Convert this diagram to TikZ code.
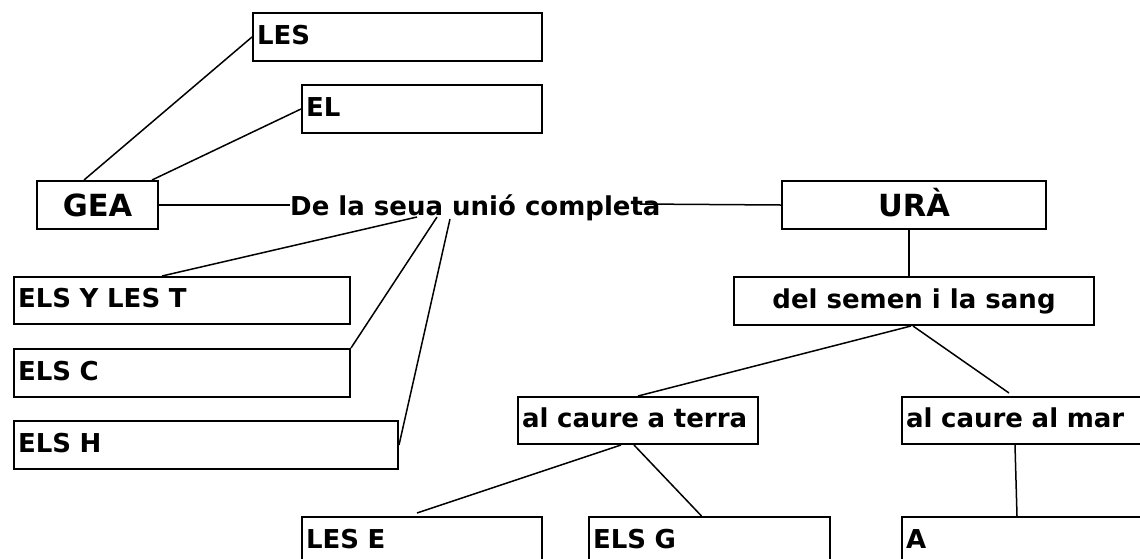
\documentclass[tikz,border=0pt]{standalone}
\usepackage{fontspec}
\setmainfont{DejaVu Sans}
\usepackage{tikz}
\usetikzlibrary{positioning}

\begin{document}
\begin{tikzpicture}[x=1pt, y=-1pt,
    caixa/.style={draw, rectangle, line width=2pt, anchor=north west, inner xsep=4pt, inner ysep=0pt,
        minimum height=48pt, font=\bfseries\fontsize{26}{30}\selectfont, text height=19pt, text depth=5pt},
    esq/.style={caixa, align=left},
    gran/.style={caixa, font=\bfseries\fontsize{30.5}{34}\selectfont, text height=22pt, text depth=0pt},
    fil/.style={line width=1.5pt}]
    \path[use as bounding box] (0,0) rectangle (1140,558);
    \clip (0,0) rectangle (1140,558);

    % GEA i els seus fills
    \node[esq, minimum width=289pt, text width=281pt] (les) at (252,12) {LES};
    \node[esq, minimum width=240pt, text width=232pt] (el) at (301,84) {EL};
    \node[gran, minimum width=121pt] (gea) at (36,180) {GEA};
    \node[gran, minimum width=264pt] (ura) at (781,180) {URÀ};
    \node[anchor=base west, inner sep=0pt, font=\bfseries\fontsize{26}{30}\selectfont] (unio) at (290,215) {De la seua unió completa};

    \node[esq, minimum width=336pt, text width=328pt, minimum height=47pt] (tit) at (13,276) {ELS Y LES T};
    \node[esq, minimum width=336pt, text width=328pt] (cic) at (13,348) {ELS C};
    \node[esq, minimum width=384pt, text width=376pt] (hec) at (13,420) {ELS H};

    % URÀ
    \node[caixa, minimum width=360pt] (sang) at (733,276) {del semen i la sang};
    \node[esq, minimum width=240pt, text width=232pt, minimum height=47pt] (terra) at (517,396) {al caure a terra};
    \node[esq, minimum width=250pt, text width=242pt, minimum height=47pt] (mar) at (901,396) {al caure al mar};
    \node[esq, minimum width=240pt, text width=232pt] (erin) at (301,516) {LES E};
    \node[esq, minimum width=241pt, text width=233pt] (gig) at (588,516) {ELS G};
    \node[esq, minimum width=250pt, text width=242pt] (afro) at (901,516) {A};

    % connexions
    \draw[fil] ([xshift=-13.5pt]gea.north) -- (les.west);
    \draw[fil] ([xshift=-7pt]gea.north east) -- (el.west);
    \draw[fil] (gea.east) -- ([yshift=10pt]unio.base west);
    \draw[fil] ([xshift=-21pt, yshift=11pt]unio.base east) -- (ura.west);
    \draw[fil] ([xshift=127pt, yshift=-2pt]unio.base west) -- ([xshift=149pt]tit.north west);
    \draw[fil] ([xshift=147pt, yshift=-2pt]unio.base west) -- (cic.north east);
    \draw[fil] ([xshift=160pt, yshift=-4pt]unio.base west) -- (hec.east);

    \draw[fil] ([xshift=-5pt]ura.south) -- ([xshift=-5pt]sang.north);
    \draw[fil] ([xshift=-3pt]sang.south) -- (terra.north);
    \draw[fil] ([xshift=-1pt]sang.south) -- ([xshift=-18pt, yshift=3pt]mar.north);
    \draw[fil] ([xshift=-17pt]terra.south) -- ([xshift=-5pt, yshift=3pt]erin.north);
    \draw[fil] ([xshift=-4pt]terra.south) -- ([xshift=-8pt]gig.north);
    \draw[fil] ([xshift=-12pt]mar.south) -- ([xshift=-10pt]afro.north);
\end{tikzpicture}
\end{document}
